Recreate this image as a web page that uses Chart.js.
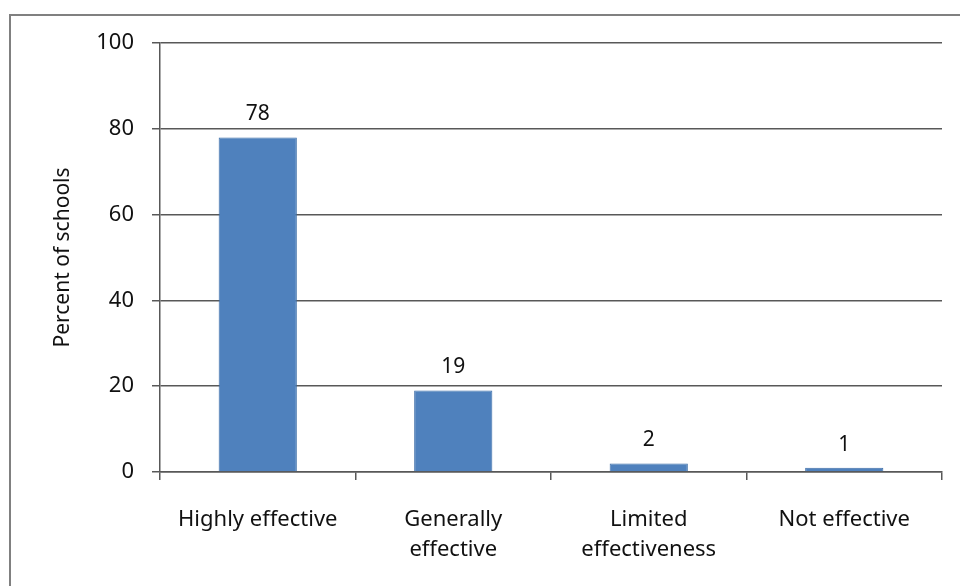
<!DOCTYPE html>
<html>
<head>
<meta charset="utf-8">
<script src="https://cdn.jsdelivr.net/npm/chart.js@4"></script>
<style>
html,body{margin:0;padding:0;background:#fff;}
#wrap{width:960px;height:586px;position:relative;}
</style>
</head>
<body>
<div id="wrap"><canvas id="c" width="960" height="586"></canvas></div>
<script>
const categories = [["Highly effective"], ["Generally", "effective"], ["Limited", "effectiveness"], ["Not effective"]];
const percentValues = [78, 19, 2, 1];
const yTicks = [0, 20, 40, 60, 80, 100];
const axisTitle = "Percent of schools";

const FONT = "'Noto Sans', 'DejaVu Sans', sans-serif";
const GRID = '#585858';

const frame = {
  id: 'frame',
  beforeDraw(chart) {
    const ctx = chart.ctx;
    ctx.save();
    ctx.fillStyle = '#fff';
    ctx.fillRect(0, 0, chart.width, chart.height);
    ctx.strokeStyle = '#808080';
    ctx.lineWidth = 2;
    ctx.strokeRect(10, 15, chart.width + 20, chart.height + 20);
    ctx.restore();
  }
};

const valueLabels = {
  id: 'valueLabels',
  afterDatasetsDraw(chart) {
    const ctx = chart.ctx;
    const meta = chart.getDatasetMeta(0);
    ctx.save();
    ctx.font = "21px " + FONT;
    ctx.fillStyle = '#111';
    ctx.textAlign = 'center';
    ctx.textBaseline = 'middle';
    meta.data.forEach((bar, i) => {
      ctx.fillText(String(percentValues[i]), bar.x, bar.y - 23);
    });
    ctx.restore();
  }
};

new Chart(document.getElementById('c'), {
  type: 'bar',
  data: {
    labels: categories,
    datasets: [{
      data: percentValues,
      backgroundColor: '#4f81bd',
      borderColor: '#3d6ea8',
      borderWidth: 1,
      barPercentage: 0.4,
      categoryPercentage: 1.0
    }]
  },
  options: {
    responsive: false,
    animation: false,
    devicePixelRatio: 1,
    layout: { padding: { left: 0, right: 18, top: 43, bottom: 0 } },
    plugins: { legend: { display: false }, tooltip: { enabled: false } },
    scales: {
      y: {
        min: 0, max: 100,
        afterFit(s) { s.width = 160; },
        afterBuildTicks(s) { s.ticks = yTicks.map(v => ({ value: v })); },
        ticks: { color: '#111', font: { family: FONT, size: 22 }, padding: 18 },
        grid: { color: GRID, lineWidth: 1.5, tickLength: 8, drawTicks: true },
        border: { display: true, color: GRID, width: 1.5 },
        title: { display: true, text: axisTitle, color: '#111', font: { family: FONT, size: 21 }, padding: { top: 50, bottom: 0 } }
      },
      x: {
        afterFit(s) { s.height = 114; },
        ticks: { color: '#111', font: { family: FONT, size: 22, lineHeight: 1.4 }, padding: 24, maxRotation: 0, autoSkip: false },
        grid: { display: true, drawOnChartArea: false, drawTicks: true, tickLength: 8, color: GRID, lineWidth: 1.5, offset: true },
        border: { display: true, color: GRID, width: 1.5 }
      }
    }
  },
  plugins: [frame, valueLabels]
});
</script>
</body>
</html>
